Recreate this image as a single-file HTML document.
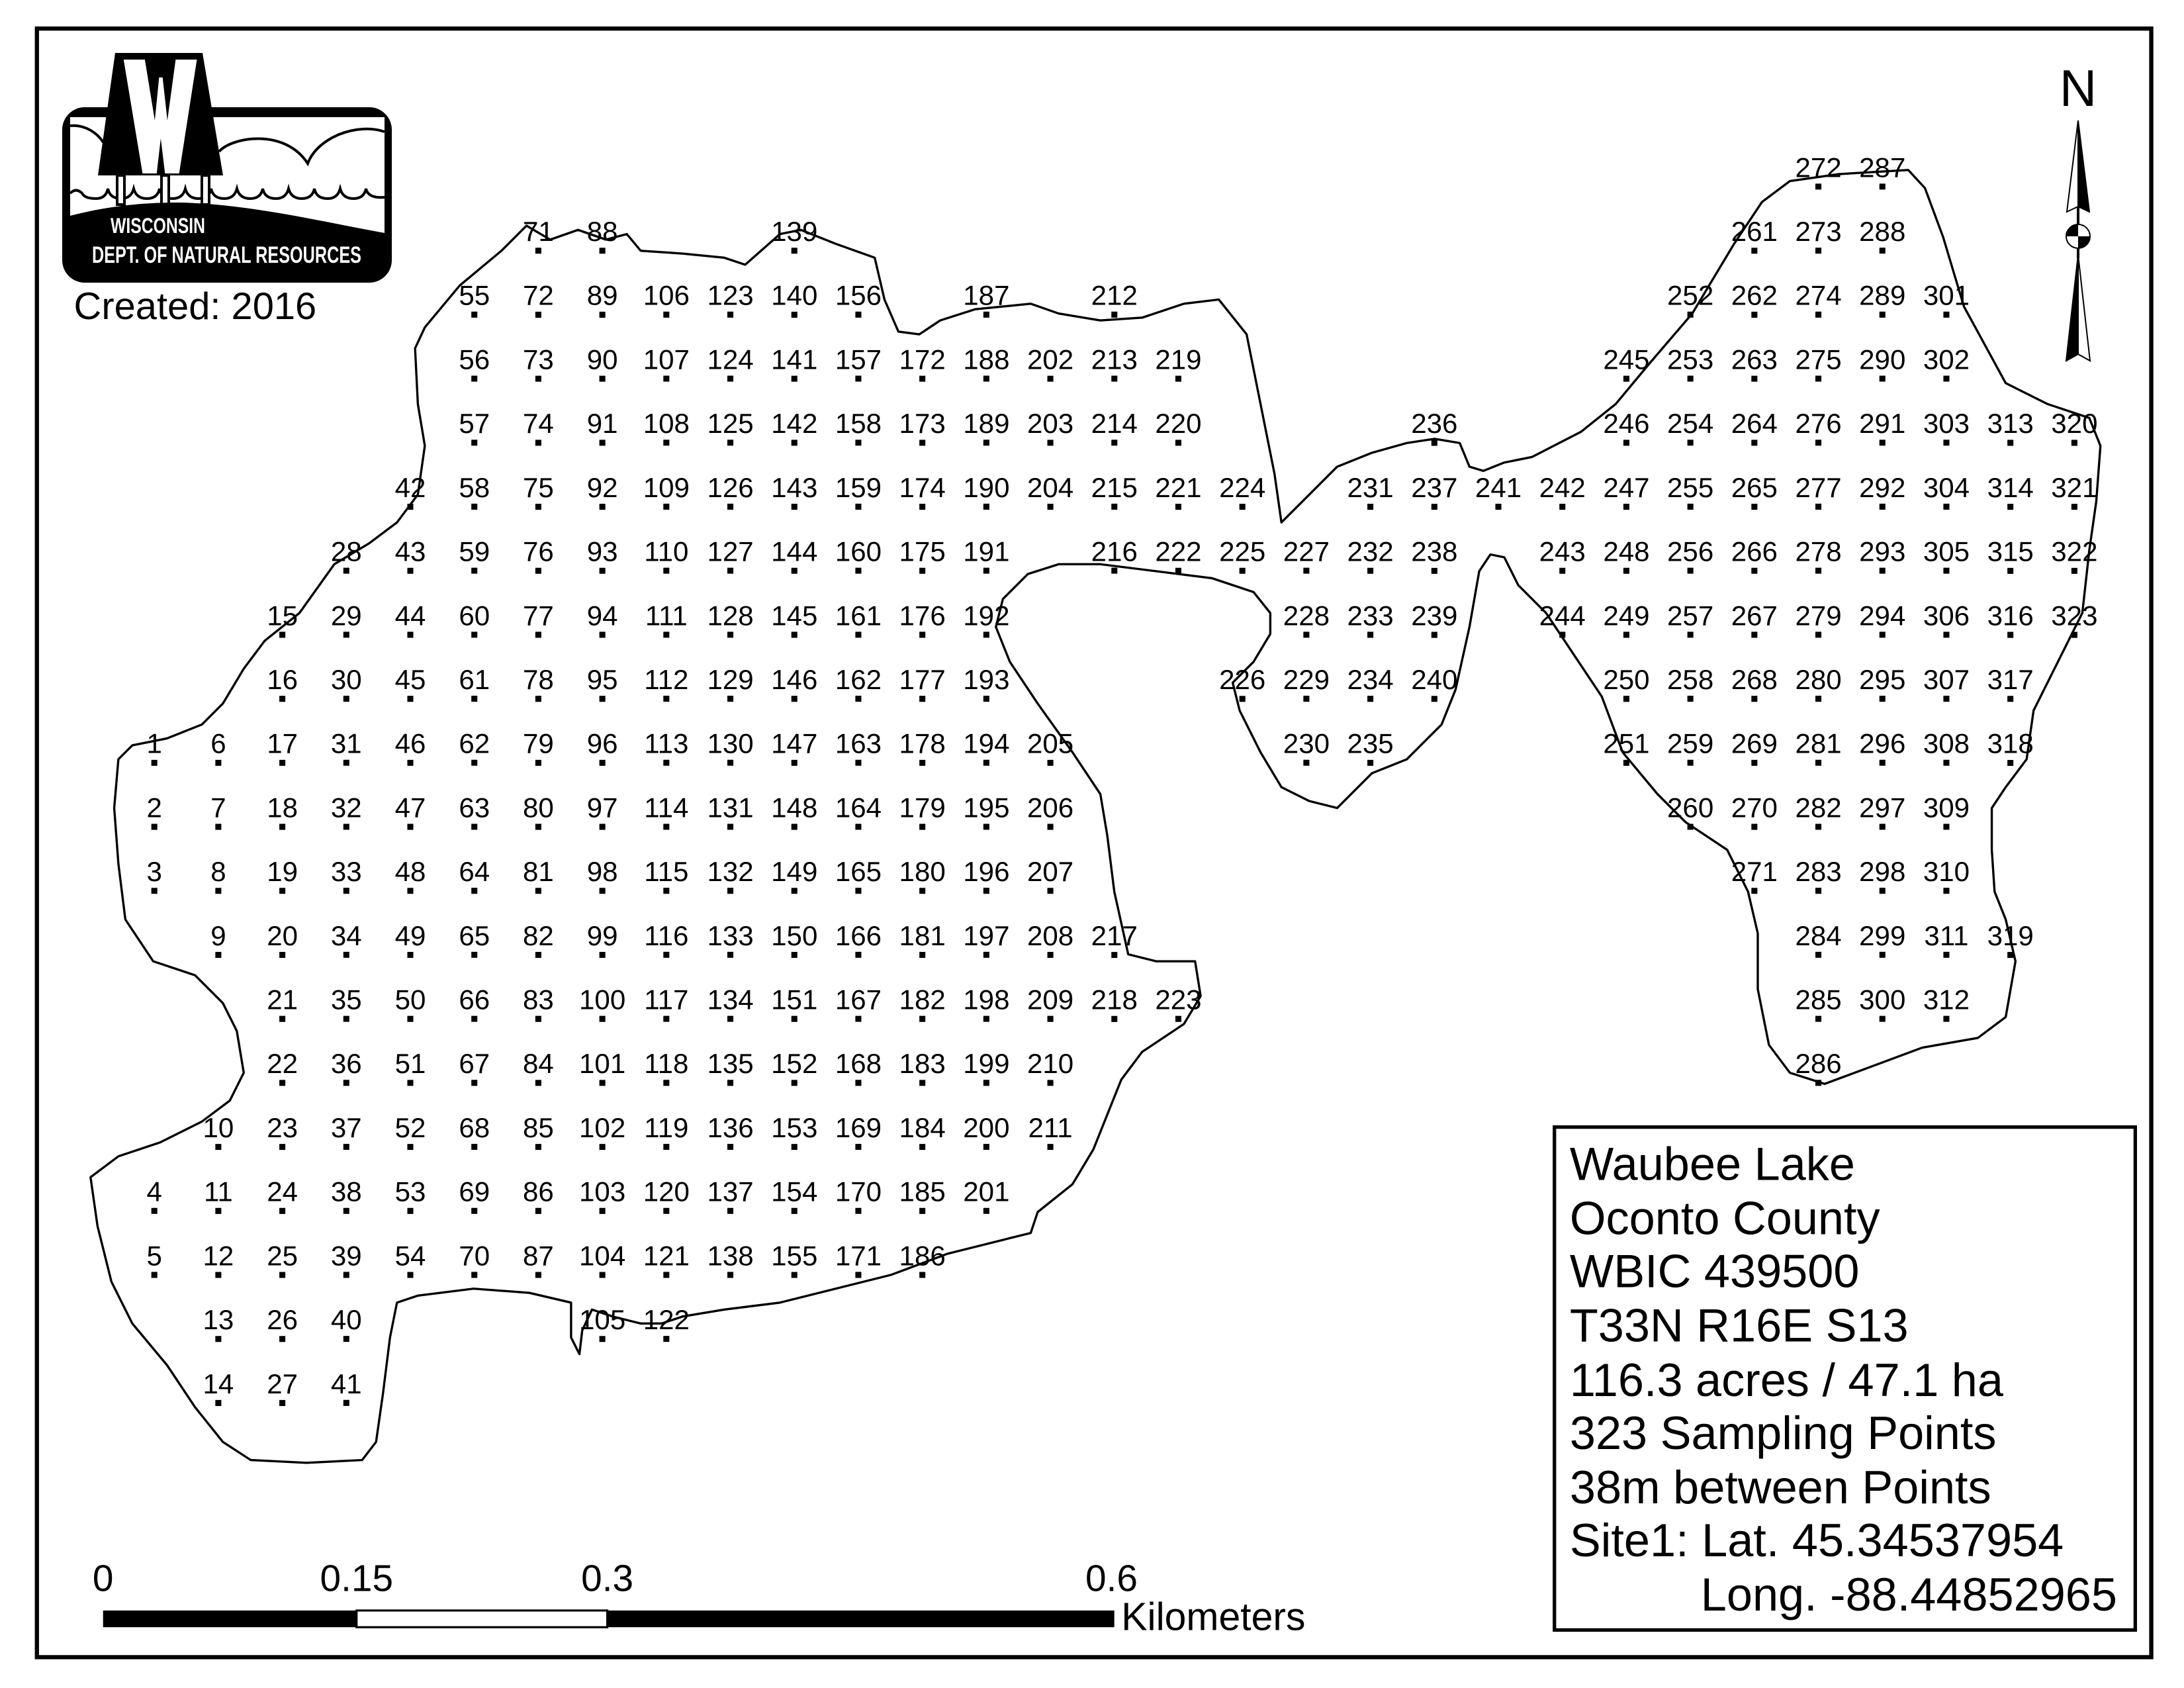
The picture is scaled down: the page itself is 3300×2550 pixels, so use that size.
<!DOCTYPE html>
<html><head><meta charset="utf-8"><style>
html,body{margin:0;padding:0;background:#fff;}
svg{display:block;}
.p text{font-family:"Liberation Sans",Arial,sans-serif;font-size:20px;text-anchor:middle;fill:#000;}
.d line{stroke:#000;stroke-width:4.3;stroke-dasharray:4.3 41.65;}
</style></head><body>
<svg width="3300" height="2550" viewBox="0 0 3300 2550" xmlns="http://www.w3.org/2000/svg">
<rect width="3300" height="2550" fill="#fff"/>
<g transform="scale(2.1046)">
<rect x="26.5" y="20.5" width="1518" height="1169" fill="none" stroke="#000" stroke-width="3"/>
<path fill="none" stroke="#000" stroke-width="1.6" stroke-linejoin="round" d="M298,250 L305,235 L330,205 L360,180 L378,162 L395,172 L415,165 L435,172 L450,168 L460,180 L490,182 L520,185 L535,190 L560,168 L575,165 L600,175 L628,185 L635,215 L645,238 L660,240 L675,230 L700,222 L740,218 L760,225 L790,230 L820,228 L850,218 L875,215 L895,240 L905,290 L915,340 L920,375 L935,360 L960,335 L985,325 L1010,318 L1030,315 L1048,318 L1055,335 L1065,338 L1080,332 L1100,328 L1135,310 L1160,290 L1185,260 L1215,225 L1245,175 L1265,145 L1285,130 L1320,125 L1370,122 L1382,135 L1395,170 L1410,220 L1440,275 L1470,290 L1500,300 L1508,320 L1505,360 L1500,395 L1495,440 L1480,470 L1460,510 L1455,545 L1440,565 L1430,580 L1430,610 L1432,640 L1440,660 L1447,690 L1440,730 L1420,745 L1380,752 L1345,765 L1310,778 L1285,770 L1270,750 L1262,710 L1262,670 L1255,640 L1240,610 L1210,590 L1190,570 L1165,540 L1150,500 L1130,470 L1110,440 L1090,420 L1080,400 L1070,398 L1062,410 L1055,450 L1045,495 L1035,520 L1010,545 L985,555 L960,580 L940,575 L920,565 L905,540 L890,510 L885,490 L900,475 L912,455 L912,440 L900,425 L870,415 L830,410 L790,405 L760,405 L738,412 L720,430 L715,450 L725,475 L745,505 L770,540 L790,570 L795,600 L800,640 L810,685 L830,690 L858,690 L862,715 L850,735 L820,755 L805,775 L795,800 L785,825 L770,850 L745,870 L740,885 L720,890 L680,900 L640,915 L600,925 L560,935 L520,940 L490,945 L475,950 L460,950 L440,945 L425,940 L418,955 L416,972 L410,960 L410,935 L380,928 L340,925 L300,930 L285,935 L280,960 L275,1000 L270,1035 L260,1048 L220,1050 L180,1048 L160,1035 L140,1010 L120,980 L95,950 L80,920 L70,880 L65,845 L85,830 L115,820 L145,805 L165,790 L175,770 L170,740 L160,720 L140,700 L110,690 L90,660 L85,620 L82,580 L85,545 L95,535 L120,530 L145,520 L160,505 L175,480 L190,460 L215,440 L240,405 L265,390 L285,375 L300,355 L305,320 L300,290 Z"/>

<g class="d">
<line x1="110.8" x2="110.8" y1="545.4" y2="641.6"/><line x1="110.8" x2="110.8" y1="867" y2="917.3"/>
<line x1="156.75" x2="156.75" y1="545.4" y2="687.6"/><line x1="156.75" x2="156.75" y1="821.1" y2="1009.2"/>
<line x1="202.7" x2="202.7" y1="453.5" y2="1009.2"/>
<line x1="248.65" x2="248.65" y1="407.5" y2="1009.2"/>
<line x1="294.6" x2="294.6" y1="361.6" y2="917.3"/>
<line x1="340.55" x2="340.55" y1="223.7" y2="917.3"/>
<line x1="386.5" x2="386.5" y1="177.8" y2="917.3"/>
<line x1="432.45" x2="432.45" y1="177.8" y2="963.3"/>
<line x1="478.4" x2="478.4" y1="223.7" y2="963.3"/>
<line x1="524.35" x2="524.35" y1="223.7" y2="917.3"/>
<line x1="570.3" x2="570.3" y1="177.8" y2="917.3"/>
<line x1="616.25" x2="616.25" y1="223.7" y2="917.3"/>
<line x1="662.2" x2="662.2" y1="269.7" y2="917.3"/>
<line x1="708.15" x2="708.15" y1="223.7" y2="871.4"/>
<line x1="754.1" x2="754.1" y1="269.7" y2="365.9"/><line x1="754.1" x2="754.1" y1="545.4" y2="825.4"/>
<line x1="800.05" x2="800.05" y1="223.7" y2="411.9"/><line x1="800.05" x2="800.05" y1="683.3" y2="733.6"/>
<line x1="846" x2="846" y1="269.7" y2="411.9"/><line x1="846" x2="846" y1="729.2" y2="733.6"/>
<line x1="891.95" x2="891.95" y1="361.6" y2="411.9"/><line x1="891.95" x2="891.95" y1="499.5" y2="503.8"/>
<line x1="937.9" x2="937.9" y1="407.5" y2="549.8"/>
<line x1="983.85" x2="983.85" y1="361.6" y2="549.8"/>
<line x1="1029.8" x2="1029.8" y1="315.7" y2="503.8"/>
<line x1="1075.75" x2="1075.75" y1="361.6" y2="365.9"/>
<line x1="1121.7" x2="1121.7" y1="361.6" y2="457.9"/>
<line x1="1167.65" x2="1167.65" y1="269.7" y2="549.8"/>
<line x1="1213.6" x2="1213.6" y1="223.7" y2="595.7"/>
<line x1="1259.55" x2="1259.55" y1="177.8" y2="641.6"/>
<line x1="1305.5" x2="1305.5" y1="131.8" y2="779.5"/>
<line x1="1351.45" x2="1351.45" y1="131.8" y2="733.6"/>
<line x1="1397.4" x2="1397.4" y1="223.7" y2="733.6"/>
<line x1="1443.35" x2="1443.35" y1="315.7" y2="549.8"/><line x1="1443.35" x2="1443.35" y1="683.3" y2="687.6"/>
<line x1="1489.3" x2="1489.3" y1="315.7" y2="457.9"/>
</g>

<g class="p">
<g transform="translate(110.8,0)"><text y="540.6">1</text><text y="586.5">2</text><text y="632.5">3</text><text y="862.2">4</text><text y="908.2">5</text></g>
<g transform="translate(156.75,0)"><text y="540.6">6</text><text y="586.5">7</text><text y="632.5">8</text><text y="678.4">9</text><text y="816.3">10</text><text y="862.2">11</text><text y="908.2">12</text><text y="954.1">13</text><text y="1000.1">14</text></g>
<g transform="translate(202.7,0)"><text y="448.7">15</text><text y="494.6">16</text><text y="540.6">17</text><text y="586.5">18</text><text y="632.5">19</text><text y="678.4">20</text><text y="724.4">21</text><text y="770.3">22</text><text y="816.3">23</text><text y="862.2">24</text><text y="908.2">25</text><text y="954.1">26</text><text y="1000.1">27</text></g>
<g transform="translate(248.65,0)"><text y="402.7">28</text><text y="448.7">29</text><text y="494.6">30</text><text y="540.6">31</text><text y="586.5">32</text><text y="632.5">33</text><text y="678.4">34</text><text y="724.4">35</text><text y="770.3">36</text><text y="816.3">37</text><text y="862.2">38</text><text y="908.2">39</text><text y="954.1">40</text><text y="1000.1">41</text></g>
<g transform="translate(294.6,0)"><text y="356.8">42</text><text y="402.7">43</text><text y="448.7">44</text><text y="494.6">45</text><text y="540.6">46</text><text y="586.5">47</text><text y="632.5">48</text><text y="678.4">49</text><text y="724.4">50</text><text y="770.3">51</text><text y="816.3">52</text><text y="862.2">53</text><text y="908.2">54</text></g>
<g transform="translate(340.55,0)"><text y="218.9">55</text><text y="264.9">56</text><text y="310.8">57</text><text y="356.8">58</text><text y="402.7">59</text><text y="448.7">60</text><text y="494.6">61</text><text y="540.6">62</text><text y="586.5">63</text><text y="632.5">64</text><text y="678.4">65</text><text y="724.4">66</text><text y="770.3">67</text><text y="816.3">68</text><text y="862.2">69</text><text y="908.2">70</text></g>
<g transform="translate(386.5,0)"><text y="173">71</text><text y="218.9">72</text><text y="264.9">73</text><text y="310.8">74</text><text y="356.8">75</text><text y="402.7">76</text><text y="448.7">77</text><text y="494.6">78</text><text y="540.6">79</text><text y="586.5">80</text><text y="632.5">81</text><text y="678.4">82</text><text y="724.4">83</text><text y="770.3">84</text><text y="816.3">85</text><text y="862.2">86</text><text y="908.2">87</text></g>
<g transform="translate(432.45,0)"><text y="173">88</text><text y="218.9">89</text><text y="264.9">90</text><text y="310.8">91</text><text y="356.8">92</text><text y="402.7">93</text><text y="448.7">94</text><text y="494.6">95</text><text y="540.6">96</text><text y="586.5">97</text><text y="632.5">98</text><text y="678.4">99</text><text y="724.4">100</text><text y="770.3">101</text><text y="816.3">102</text><text y="862.2">103</text><text y="908.2">104</text><text y="954.1">105</text></g>
<g transform="translate(478.4,0)"><text y="218.9">106</text><text y="264.9">107</text><text y="310.8">108</text><text y="356.8">109</text><text y="402.7">110</text><text y="448.7">111</text><text y="494.6">112</text><text y="540.6">113</text><text y="586.5">114</text><text y="632.5">115</text><text y="678.4">116</text><text y="724.4">117</text><text y="770.3">118</text><text y="816.3">119</text><text y="862.2">120</text><text y="908.2">121</text><text y="954.1">122</text></g>
<g transform="translate(524.35,0)"><text y="218.9">123</text><text y="264.9">124</text><text y="310.8">125</text><text y="356.8">126</text><text y="402.7">127</text><text y="448.7">128</text><text y="494.6">129</text><text y="540.6">130</text><text y="586.5">131</text><text y="632.5">132</text><text y="678.4">133</text><text y="724.4">134</text><text y="770.3">135</text><text y="816.3">136</text><text y="862.2">137</text><text y="908.2">138</text></g>
<g transform="translate(570.3,0)"><text y="173">139</text><text y="218.9">140</text><text y="264.9">141</text><text y="310.8">142</text><text y="356.8">143</text><text y="402.7">144</text><text y="448.7">145</text><text y="494.6">146</text><text y="540.6">147</text><text y="586.5">148</text><text y="632.5">149</text><text y="678.4">150</text><text y="724.4">151</text><text y="770.3">152</text><text y="816.3">153</text><text y="862.2">154</text><text y="908.2">155</text></g>
<g transform="translate(616.25,0)"><text y="218.9">156</text><text y="264.9">157</text><text y="310.8">158</text><text y="356.8">159</text><text y="402.7">160</text><text y="448.7">161</text><text y="494.6">162</text><text y="540.6">163</text><text y="586.5">164</text><text y="632.5">165</text><text y="678.4">166</text><text y="724.4">167</text><text y="770.3">168</text><text y="816.3">169</text><text y="862.2">170</text><text y="908.2">171</text></g>
<g transform="translate(662.2,0)"><text y="264.9">172</text><text y="310.8">173</text><text y="356.8">174</text><text y="402.7">175</text><text y="448.7">176</text><text y="494.6">177</text><text y="540.6">178</text><text y="586.5">179</text><text y="632.5">180</text><text y="678.4">181</text><text y="724.4">182</text><text y="770.3">183</text><text y="816.3">184</text><text y="862.2">185</text><text y="908.2">186</text></g>
<g transform="translate(708.15,0)"><text y="218.9">187</text><text y="264.9">188</text><text y="310.8">189</text><text y="356.8">190</text><text y="402.7">191</text><text y="448.7">192</text><text y="494.6">193</text><text y="540.6">194</text><text y="586.5">195</text><text y="632.5">196</text><text y="678.4">197</text><text y="724.4">198</text><text y="770.3">199</text><text y="816.3">200</text><text y="862.2">201</text></g>
<g transform="translate(754.1,0)"><text y="264.9">202</text><text y="310.8">203</text><text y="356.8">204</text><text y="540.6">205</text><text y="586.5">206</text><text y="632.5">207</text><text y="678.4">208</text><text y="724.4">209</text><text y="770.3">210</text><text y="816.3">211</text></g>
<g transform="translate(800.05,0)"><text y="218.9">212</text><text y="264.9">213</text><text y="310.8">214</text><text y="356.8">215</text><text y="402.7">216</text><text y="678.4">217</text><text y="724.4">218</text></g>
<g transform="translate(846,0)"><text y="264.9">219</text><text y="310.8">220</text><text y="356.8">221</text><text y="402.7">222</text><text y="724.4">223</text></g>
<g transform="translate(891.95,0)"><text y="356.8">224</text><text y="402.7">225</text><text y="494.6">226</text></g>
<g transform="translate(937.9,0)"><text y="402.7">227</text><text y="448.7">228</text><text y="494.6">229</text><text y="540.6">230</text></g>
<g transform="translate(983.85,0)"><text y="356.8">231</text><text y="402.7">232</text><text y="448.7">233</text><text y="494.6">234</text><text y="540.6">235</text></g>
<g transform="translate(1029.8,0)"><text y="310.8">236</text><text y="356.8">237</text><text y="402.7">238</text><text y="448.7">239</text><text y="494.6">240</text></g>
<g transform="translate(1075.75,0)"><text y="356.8">241</text></g>
<g transform="translate(1121.7,0)"><text y="356.8">242</text><text y="402.7">243</text><text y="448.7">244</text></g>
<g transform="translate(1167.65,0)"><text y="264.9">245</text><text y="310.8">246</text><text y="356.8">247</text><text y="402.7">248</text><text y="448.7">249</text><text y="494.6">250</text><text y="540.6">251</text></g>
<g transform="translate(1213.6,0)"><text y="218.9">252</text><text y="264.9">253</text><text y="310.8">254</text><text y="356.8">255</text><text y="402.7">256</text><text y="448.7">257</text><text y="494.6">258</text><text y="540.6">259</text><text y="586.5">260</text></g>
<g transform="translate(1259.55,0)"><text y="173">261</text><text y="218.9">262</text><text y="264.9">263</text><text y="310.8">264</text><text y="356.8">265</text><text y="402.7">266</text><text y="448.7">267</text><text y="494.6">268</text><text y="540.6">269</text><text y="586.5">270</text><text y="632.5">271</text></g>
<g transform="translate(1305.5,0)"><text y="127">272</text><text y="173">273</text><text y="218.9">274</text><text y="264.9">275</text><text y="310.8">276</text><text y="356.8">277</text><text y="402.7">278</text><text y="448.7">279</text><text y="494.6">280</text><text y="540.6">281</text><text y="586.5">282</text><text y="632.5">283</text><text y="678.4">284</text><text y="724.4">285</text><text y="770.3">286</text></g>
<g transform="translate(1351.45,0)"><text y="127">287</text><text y="173">288</text><text y="218.9">289</text><text y="264.9">290</text><text y="310.8">291</text><text y="356.8">292</text><text y="402.7">293</text><text y="448.7">294</text><text y="494.6">295</text><text y="540.6">296</text><text y="586.5">297</text><text y="632.5">298</text><text y="678.4">299</text><text y="724.4">300</text></g>
<g transform="translate(1397.4,0)"><text y="218.9">301</text><text y="264.9">302</text><text y="310.8">303</text><text y="356.8">304</text><text y="402.7">305</text><text y="448.7">306</text><text y="494.6">307</text><text y="540.6">308</text><text y="586.5">309</text><text y="632.5">310</text><text y="678.4">311</text><text y="724.4">312</text></g>
<g transform="translate(1443.35,0)"><text y="310.8">313</text><text y="356.8">314</text><text y="402.7">315</text><text y="448.7">316</text><text y="494.6">317</text><text y="540.6">318</text><text y="678.4">319</text></g>
<g transform="translate(1489.3,0)"><text y="310.8">320</text><text y="356.8">321</text><text y="402.7">322</text><text y="448.7">323</text></g>
</g>

<!-- legend box -->
<rect x="1116" y="809" width="417" height="361" fill="#fff" stroke="#000" stroke-width="2.5"/>
<g font-family="Liberation Sans, Arial, sans-serif" font-size="33.4" fill="#000">
<text x="1127" y="847">Waubee Lake</text>
<text x="1127" y="886">Oconto County</text>
<text x="1127" y="924">WBIC 439500</text>
<text x="1127" y="963">T33N R16E S13</text>
<text x="1127" y="1002">116.3 acres / 47.1 ha</text>
<text x="1127" y="1040">323 Sampling Points</text>
<text x="1127" y="1079">38m between Points</text>
<text x="1127" y="1117">Site1: Lat. 45.34537954</text>
<text x="1520" y="1156" text-anchor="end">Long. -88.44852965</text>
</g>

<!-- scale bar -->
<rect x="74" y="1156" width="182" height="12" fill="#000"/>
<rect x="256" y="1156" width="180" height="12" fill="#fff" stroke="#000" stroke-width="1.5"/>
<rect x="436" y="1156" width="364" height="12" fill="#000"/>
<g font-family="Liberation Sans, Arial, sans-serif" font-size="27" fill="#000" text-anchor="middle">
<text x="74" y="1142">0</text><text x="256" y="1142">0.15</text><text x="436" y="1142">0.3</text><text x="798" y="1142">0.6</text>
<text x="805" y="1170" text-anchor="start" font-size="28">Kilometers</text>
</g>
<text x="53" y="229" font-family="Liberation Sans, Arial, sans-serif" font-size="27.5" fill="#000">Created: 2016</text>
</g>

<!-- north arrow (full-res coords) -->
<text x="3140" y="160" font-family="Liberation Sans, Arial, sans-serif" font-size="78" text-anchor="middle" fill="#000">N</text>
<polygon points="3140,182 3123,320 3140,312" fill="#fff" stroke="#000" stroke-width="2"/>
<polygon points="3140,182 3157,320 3140,312" fill="#000" stroke="#000" stroke-width="2"/>
<line x1="3140" y1="312" x2="3140" y2="390" stroke="#000" stroke-width="4"/>
<circle cx="3140" cy="357" r="18" fill="#fff" stroke="#000" stroke-width="2"/>
<path d="M3140,357 L3140,339 A18,18 0 0 0 3122,357 Z" fill="#000"/>
<path d="M3140,357 L3140,375 A18,18 0 0 0 3158,357 Z" fill="#000"/>
<polygon points="3140,385 3122,545 3140,535" fill="#000" stroke="#000" stroke-width="2"/>
<polygon points="3140,385 3158,545 3140,535" fill="#fff" stroke="#000" stroke-width="2"/>

<!-- DNR logo (full-res coords) -->
<rect x="94" y="162" width="498" height="265" rx="34" fill="#000"/>
<path d="M106,177 L581,177 L581,352 C500,338 380,308 270,306 C200,306 150,315 106,326 Z" fill="#fff"/>
<path d="M106,190 C125,188 145,198 156,215 M331,229 C350,207 430,193 465,247 C480,207 540,185 581,199" fill="none" stroke="#000" stroke-width="4"/>
<path d="M106,292 Q115,283 124,292 Q128,300 145,300 Q160,300 163,285 Q166,300 183,300 Q198,300 202,285 Q206,300 222,300 Q238,300 241,285 Q244,300 261,300 Q276,300 280,285 Q284,300 300,300 Q316,300 319,285 Q322,300 339,300 Q354,300 358,285 Q362,300 378,300 Q394,300 397,285 Q400,300 417,300 Q432,300 436,285 Q440,300 456,300 Q472,300 475,285 Q478,300 495,300 Q510,300 514,285 Q518,300 534,300 Q550,300 553,285 Q556,300 581,298" fill="none" stroke="#000" stroke-width="4"/>
<polygon points="174,80 306,80 337,265 148,265" fill="#000"/>
<polygon points="186.8,90 218.9,90 233.9,182 240.4,117 245.7,117 252.9,182 265.4,90 297.5,90 270.7,262 249.3,262 242.9,209 236.8,262 215.4,262" fill="#fff"/>
<rect x="177" y="265" width="11" height="44" fill="#fff" stroke="#000" stroke-width="4"/>
<rect x="244" y="265" width="11" height="44" fill="#fff" stroke="#000" stroke-width="4"/>
<rect x="305" y="265" width="11" height="44" fill="#fff" stroke="#000" stroke-width="4"/>
<path d="M106,326 C150,315 200,306 270,306 C380,308 500,338 581,352 L581,415 L106,415 Z" fill="#000"/>
<text x="167" y="352" font-family="Liberation Sans Narrow, Liberation Sans, Arial, sans-serif" font-weight="bold" font-size="32" fill="#fff" textLength="143" lengthAdjust="spacingAndGlyphs">WISCONSIN</text>
<text x="139" y="397" font-family="Liberation Sans Narrow, Liberation Sans, Arial, sans-serif" font-weight="bold" font-size="35" fill="#fff" textLength="407" lengthAdjust="spacingAndGlyphs">DEPT. OF NATURAL RESOURCES</text>
</svg>
</body></html>
